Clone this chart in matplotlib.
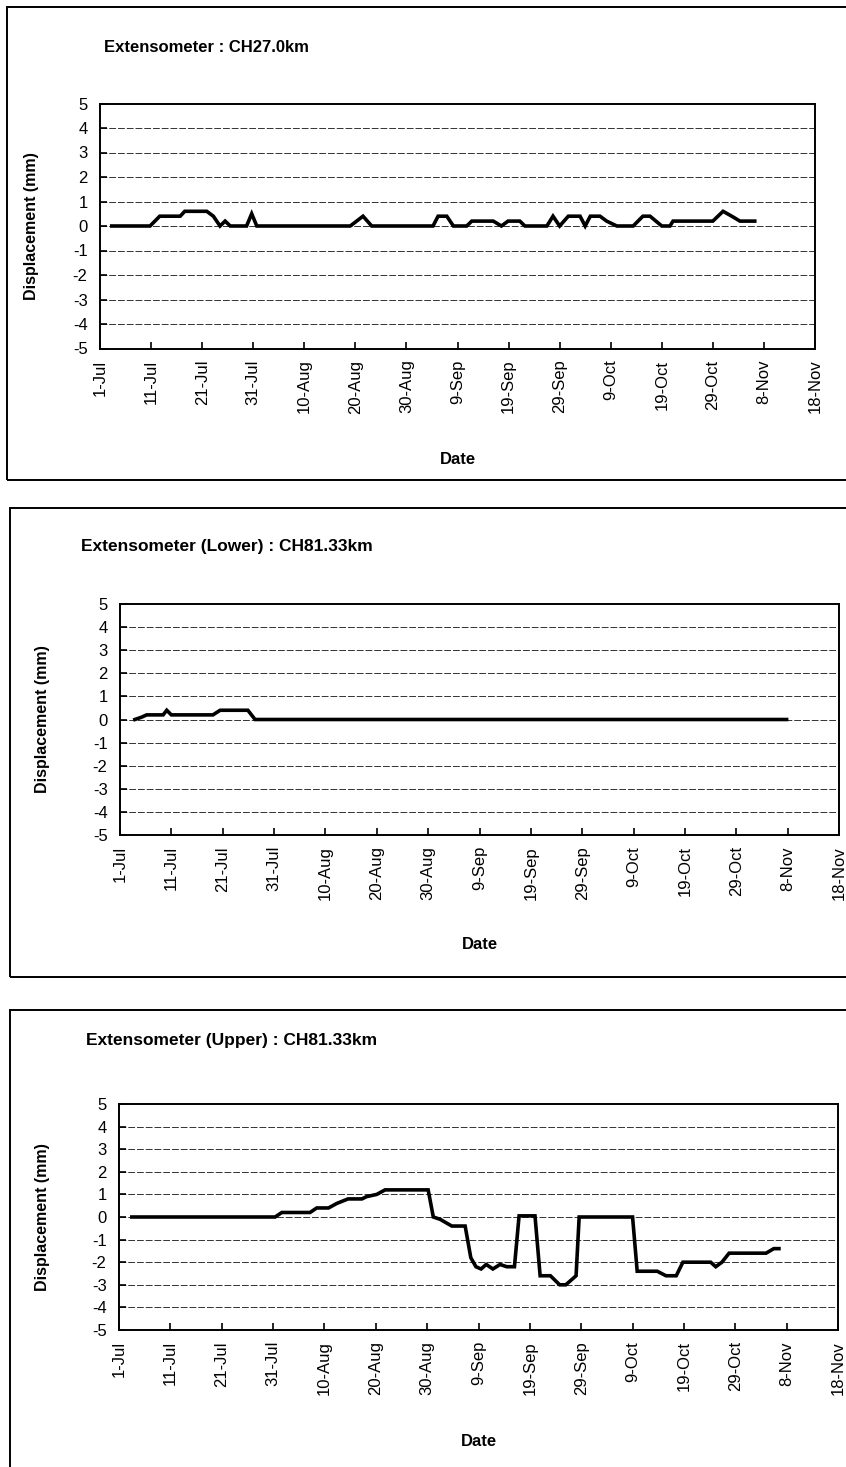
import matplotlib.pyplot as plt
from matplotlib.patches import Rectangle

plt.rcParams['font.family'] = ['Liberation Sans', 'DejaVu Sans']
plt.rcParams['axes.unicode_minus'] = False

# days counted from 1-Jul
tick_days = [0, 10, 20, 30, 40, 50, 60, 70, 80, 90, 100, 110, 120, 130, 140]
tick_labels = ['1-Jul', '11-Jul', '21-Jul', '31-Jul', '10-Aug', '20-Aug', '30-Aug',
               '9-Sep', '19-Sep', '29-Sep', '9-Oct', '19-Oct', '29-Oct', '8-Nov', '18-Nov']

# CH27.0km
days_ch27 = [2.3, 9.8, 11.7, 15.7, 16.6, 20.9, 22.2, 23.5, 24.5, 25.5, 28.7, 29.7, 30.7,
             49.0, 51.5, 53.2, 65.2, 66.2, 67.9, 69.2, 71.8, 72.8, 77.0, 78.6, 79.9, 82.2,
             83.2, 87.5, 88.7, 90.0, 91.7, 94.0, 95.0, 96.0, 97.9, 99.2, 101.2, 104.4,
             106.3, 107.7, 110.0, 111.6, 112.2, 120.0, 122.0, 123.7, 125.3, 128.2]
disp_ch27 = [0, 0, 0.4, 0.4, 0.6, 0.6, 0.4, 0, 0.2, 0, 0, 0.5, 0,
             0, 0.4, 0, 0, 0.4, 0.4, 0, 0, 0.2, 0.2, 0, 0.2, 0.2,
             0, 0, 0.4, 0, 0.4, 0.4, 0, 0.4, 0.4, 0.2, 0, 0,
             0.4, 0.4, 0, 0, 0.2, 0.2, 0.6, 0.4, 0.2, 0.2]

# CH81.33km lower
days_low = [2.9, 4.2, 5.2, 8.4, 9.1, 10.0, 18.1, 19.5, 24.9, 26.3, 129.8]
disp_low = [0, 0.1, 0.2, 0.2, 0.4, 0.2, 0.2, 0.4, 0.4, 0, 0]

# CH81.33km upper
days_up = [2.5, 30.4, 31.7, 37.2, 38.5, 40.8, 42.4, 44.6, 47.3, 48.2, 50.2, 51.8, 60.2,
           61.2, 62.5, 64.8, 67.4, 68.5, 69.5, 70.5, 71.5, 72.8, 74.2, 75.5, 77.0, 77.9,
           81.0, 82.0, 84.0, 85.8, 87.0, 88.0, 89.0, 89.6, 100.0, 100.9, 104.8, 106.5,
           108.5, 109.8, 115.2, 116.2, 117.4, 118.8, 126.0, 127.5, 128.5]
disp_up = [0, 0, 0.2, 0.2, 0.4, 0.4, 0.6, 0.8, 0.8, 0.9, 1.0, 1.2, 1.2,
           0, -0.1, -0.4, -0.4, -1.8, -2.2, -2.3, -2.1, -2.3, -2.1, -2.2, -2.2, 0.05,
           0.05, -2.6, -2.6, -3.0, -3.0, -2.8, -2.6, 0.0, 0.0, -2.4, -2.4, -2.6,
           -2.6, -2.0, -2.0, -2.2, -2.0, -1.6, -1.6, -1.4, -1.4]

titles = ['Extensometer : CH27.0km',
          'Extensometer (Lower) : CH81.33km',
          'Extensometer (Upper) : CH81.33km']

W, H = 846, 1467
fig = plt.figure(figsize=(W / 100, H / 100), dpi=100)


def frac(x0, y0, x1, y1):
    # pixel box (top-left origin) -> figure fraction rect
    return [x0 / W, 1 - y1 / H, (x1 - x0) / W, (y1 - y0) / H]


panels = [
    # box, axes, title pos/size, ylabel x, date y
    dict(box=(7, 7, 850, 480), ax=(100, 103.5, 815, 348.5), title=(104, 48), tsize=12,
         ylab=32, date=460),
    dict(box=(10, 508, 850, 977), ax=(120, 604, 839, 835), title=(81, 547), tsize=12.5,
         ylab=43, date=945),
    dict(box=(10, 1010, 850, 1475), ax=(119, 1104, 838, 1330), title=(86, 1040), tsize=12.5,
         ylab=43, date=1442),
]
series = [(days_ch27, disp_ch27), (days_low, disp_low), (days_up, disp_up)]

for p, (xs, ys), title in zip(panels, series, titles):
    bx = frac(*p['box'])
    fig.patches.append(Rectangle((bx[0], bx[1]), bx[2], bx[3], transform=fig.transFigure,
                                 fill=False, lw=1.4, ec='black', clip_on=False))
    ax = fig.add_axes(frac(*p['ax']))
    for y in range(-4, 5):
        ax.axhline(y, color='0.2', lw=0.7, ls=(0, (7, 2)), zorder=1)
    ax.plot(xs, ys, color='black', lw=2.6, solid_joinstyle='miter', zorder=3)
    ax.set_xlim(0, 140)
    ax.set_ylim(-5, 5)
    ax.set_xticks(tick_days)
    ax.set_xticklabels(tick_labels, rotation=90, fontsize=12)
    ax.set_yticks(range(-5, 6))
    ax.set_yticklabels([str(v) for v in range(-5, 6)], fontsize=12)
    ax.tick_params(axis='both', direction='in', length=5, width=1.2)
    ax.tick_params(axis='y', pad=9)
    ax.tick_params(axis='x', pad=8)
    for s in ax.spines.values():
        s.set_linewidth(1.4)
    x0, y0, x1, y1 = p['ax']
    fig.text(p['title'][0] / W, 1 - p['title'][1] / H, title, fontsize=p['tsize'],
             fontweight='bold', ha='left', va='center')
    fig.text(p['ylab'] / W, 1 - (y0 + y1) / 2 / H, 'Displacement (mm)', fontsize=11.5,
             fontweight='bold', rotation=90, ha='center', va='center')
    fig.text((x0 + x1) / 2 / W, 1 - p['date'] / H, 'Date', fontsize=12,
             fontweight='bold', ha='center', va='center')

fig.savefig('out.png', dpi=100, facecolor='white')
